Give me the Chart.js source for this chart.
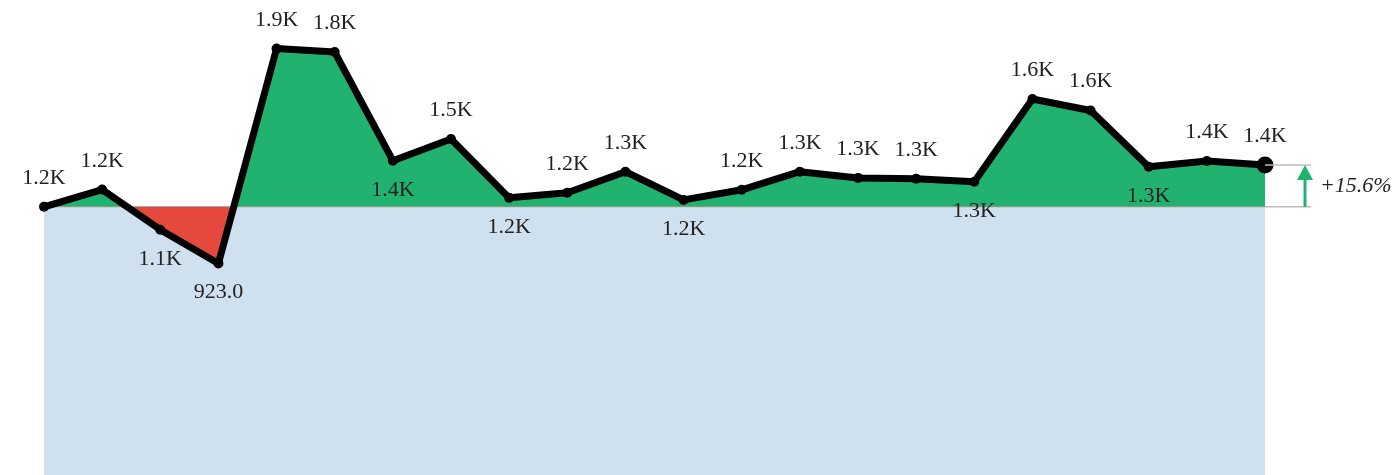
<!DOCTYPE html>
<html lang="en">
<head>
<meta charset="UTF-8">
<title>Trend vs start</title>
<style>
  body { margin: 0; background: #fff; }
  .wrap { width: 1394px; height: 475px; position: relative; }
</style>
</head>
<body>
<div class="wrap">
  <canvas id="chart"></canvas>
</div>

<script src="https://cdn.jsdelivr.net/npm/chart.js"></script>
<script>
// series values, one per period
const periods = ['P1', 'P2', 'P3', 'P4', 'P5', 'P6', 'P7', 'P8', 'P9', 'P10', 'P11',
                 'P12', 'P13', 'P14', 'P15', 'P16', 'P17', 'P18', 'P19', 'P20', 'P21', 'P22'];
const values = [1170, 1245, 1070, 923, 1860, 1845, 1371, 1466, 1209, 1231, 1323,
                1200, 1244, 1323, 1296, 1292, 1279, 1640, 1590, 1345, 1370, 1352];

const baseValue = values[0];
const lastValue = values[values.length - 1];
const baseLine = values.map(() => baseValue);

const GREEN = '#22b26f';
const RED = '#e5483d';
const BLUE = '#cfe0ee';
const GRAY = '#bdbdbd';
const TEXT = '#222222';
const LABEL_FONT = '22px "Liberation Serif", "Times New Roman", serif';

function fmt(v) {
  return v >= 1000 ? (v / 1000).toFixed(1) + 'K' : v.toFixed(1);
}

// value labels: under local dips and under points below the start value
const valueLabels = {
  id: 'valueLabels',
  afterDatasetsDraw(chart) {
    const ctx = chart.ctx;
    const pts = chart.getDatasetMeta(0).data;
    ctx.save();
    ctx.font = LABEL_FONT;
    ctx.fillStyle = TEXT;
    ctx.textAlign = 'center';
    ctx.textBaseline = 'alphabetic';
    values.forEach((v, i) => {
      const prev = i > 0 ? values[i - 1] : -Infinity;
      const next = i < values.length - 1 ? values[i + 1] : -Infinity;
      const below = v < baseValue || (v < prev && v < next);
      const p = pts[i];
      ctx.fillText(fmt(v), p.x, below ? p.y + 35 : p.y - 23);
    });
    ctx.restore();
  }
};

// change marker to the right of the last point
const changeMarker = {
  id: 'changeMarker',
  afterDraw(chart) {
    const ctx = chart.ctx;
    const y = chart.scales.y;
    const x0 = chart.getDatasetMeta(0).data[values.length - 1].x;
    const yTop = y.getPixelForValue(lastValue);
    const yBase = y.getPixelForValue(baseValue);
    const ax = x0 + 40;
    ctx.save();
    ctx.strokeStyle = GRAY;
    ctx.lineWidth = 1.5;
    ctx.beginPath();
    ctx.moveTo(x0, yTop); ctx.lineTo(ax + 6, yTop);
    ctx.moveTo(x0, yBase); ctx.lineTo(ax + 6, yBase);
    ctx.stroke();

    ctx.strokeStyle = GREEN;
    ctx.fillStyle = GREEN;
    ctx.lineWidth = 3;
    ctx.beginPath();
    ctx.moveTo(ax, yBase);
    ctx.lineTo(ax, yTop + 12);
    ctx.stroke();
    ctx.beginPath();
    ctx.moveTo(ax, yTop);
    ctx.lineTo(ax - 8, yTop + 15);
    ctx.lineTo(ax + 8, yTop + 15);
    ctx.closePath();
    ctx.fill();

    const pct = (lastValue - baseValue) / baseValue * 100;
    ctx.fillStyle = TEXT;
    ctx.font = 'italic 22px "Liberation Serif", "Times New Roman", serif';
    ctx.textAlign = 'left';
    ctx.textBaseline = 'middle';
    ctx.fillText((pct >= 0 ? '+' : '') + pct.toFixed(1) + '%', ax + 15, (yTop + yBase) / 2);
    ctx.restore();
  }
};

new Chart(document.getElementById('chart'), {
  type: 'line',
  data: {
    labels: periods,
    datasets: [
      {
        data: values,
        borderColor: '#000',
        borderWidth: 7,
        borderJoinStyle: 'round',
        pointRadius: values.map((v, i) => i === values.length - 1 ? 8.5 : 5),
        pointBackgroundColor: '#000',
        pointBorderWidth: 0,
        fill: { target: { value: baseValue }, above: GREEN, below: RED },
        tension: 0,
        clip: false
      },
      {
        data: baseLine,
        borderColor: GRAY,
        borderWidth: 1.5,
        pointRadius: 0,
        backgroundColor: BLUE,
        fill: 'origin',
        clip: false
      }
    ]
  },
  options: {
    responsive: true,
    maintainAspectRatio: false,
    animation: false,
    layout: { autoPadding: false, padding: { left: 44, right: 129, top: 0, bottom: 0 } },
    plugins: { legend: { display: false }, tooltip: { enabled: false } },
    scales: {
      x: { display: false, offset: false },
      y: { display: false, min: 0, max: 2072 }
    }
  },
  plugins: [valueLabels, changeMarker]
});
</script>
</body>
</html>
